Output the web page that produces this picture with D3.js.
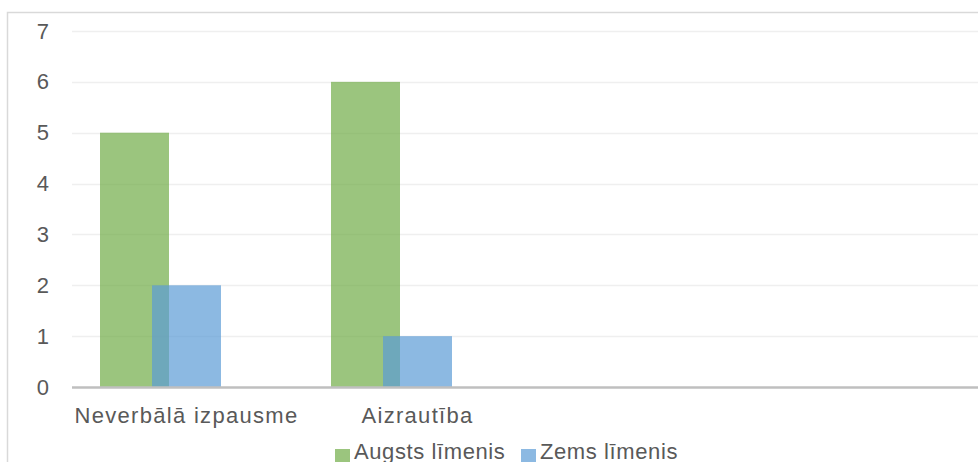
<!DOCTYPE html>
<html><head><meta charset="utf-8">
<script src="https://cdn.jsdelivr.net/npm/d3@7"></script>
<style>body{margin:0;background:#fff}svg{display:block}</style>
</head><body>
<script>
const categories = ["Neverbālā izpausme", "Aizrautība", "", ""];
const seriesNames = ["Augsts līmenis", "Zems līmenis"];
const augsts = [5, 6];
const zems = [2, 1];
const yTicks = [0, 1, 2, 3, 4, 5, 6, 7];
const colors = ["rgba(112,173,71,0.7)", "rgba(91,155,213,0.7)"];

const W = 978, H = 462;
const svg = d3.select("body").append("svg").attr("width", W).attr("height", H);
const font = "Liberation Sans, Arial, sans-serif";

// chart border
svg.append("rect").attr("x", 7.5).attr("y", 12.5).attr("width", 1000).attr("height", 500)
  .attr("fill", "#fff").attr("stroke", "#d9d9d9").attr("stroke-width", 1.5);

const x = d3.scaleBand().domain(d3.range(categories.length)).range([72, 996]).padding(0);
const y = d3.scaleLinear().domain([0, 7]).range([387, 31]);

// gridlines
svg.append("g").selectAll("line").data(yTicks.filter(d => d > 0)).join("line")
  .attr("x1", 72).attr("x2", W).attr("y1", d => Math.round(y(d)) + 0.5).attr("y2", d => Math.round(y(d)) + 0.5)
  .attr("stroke", "#efefef").attr("stroke-width", 1.5);

// y axis labels
const yAxis = d3.axisLeft(y).tickValues(yTicks).tickFormat(d3.format("d")).tickSize(0).tickPadding(0);
const ya = svg.append("g").attr("transform", "translate(49,0)").call(yAxis);
ya.select(".domain").remove();
ya.selectAll("text").attr("font-family", font).attr("font-size", 22).attr("fill", "#595959");

// bars
const series = [augsts, zems];
const bw = x.bandwidth();
const barW = bw * 69 / 231, step = bw * 52 / 231, off = bw * 28 / 231;
series.forEach((vals, s) => {
  svg.append("g").selectAll("rect").data(vals).join("rect")
    .attr("x", (d, i) => x(i) + off + s * step)
    .attr("width", barW)
    .attr("y", d => y(d))
    .attr("height", d => y(0) - y(d))
    .attr("fill", colors[s]);
});

// x axis line
svg.append("line").attr("x1", 72).attr("x2", W).attr("y1", y(0) + 0.5).attr("y2", y(0) + 0.5)
  .attr("stroke", "#bfbfbf").attr("stroke-width", 2.5);

// category labels
svg.append("g").selectAll("text").data(categories.map((c, i) => [c, i]).filter(d => d[0])).join("text")
  .attr("x", d => x(d[1]) + bw / 2 - 1)
  .attr("y", 423)
  .attr("text-anchor", "middle")
  .attr("font-family", font).attr("font-size", 22).attr("letter-spacing", 1.3)
  .attr("fill", "#595959").text(d => d[0]);

// legend
const legX = [335, 521];
const leg = svg.append("g").selectAll("g").data(seriesNames).join("g")
  .attr("transform", (d, i) => `translate(${legX[i]},0)`);
leg.append("rect").attr("x", 0).attr("y", 449).attr("width", 15).attr("height", 15)
  .attr("fill", (d, i) => colors[i]);
leg.append("text").attr("x", 19).attr("y", 459).text(d => d)
  .attr("font-family", font).attr("font-size", 22).attr("letter-spacing", 0.6).attr("fill", "#595959");
</script>
</body></html>
